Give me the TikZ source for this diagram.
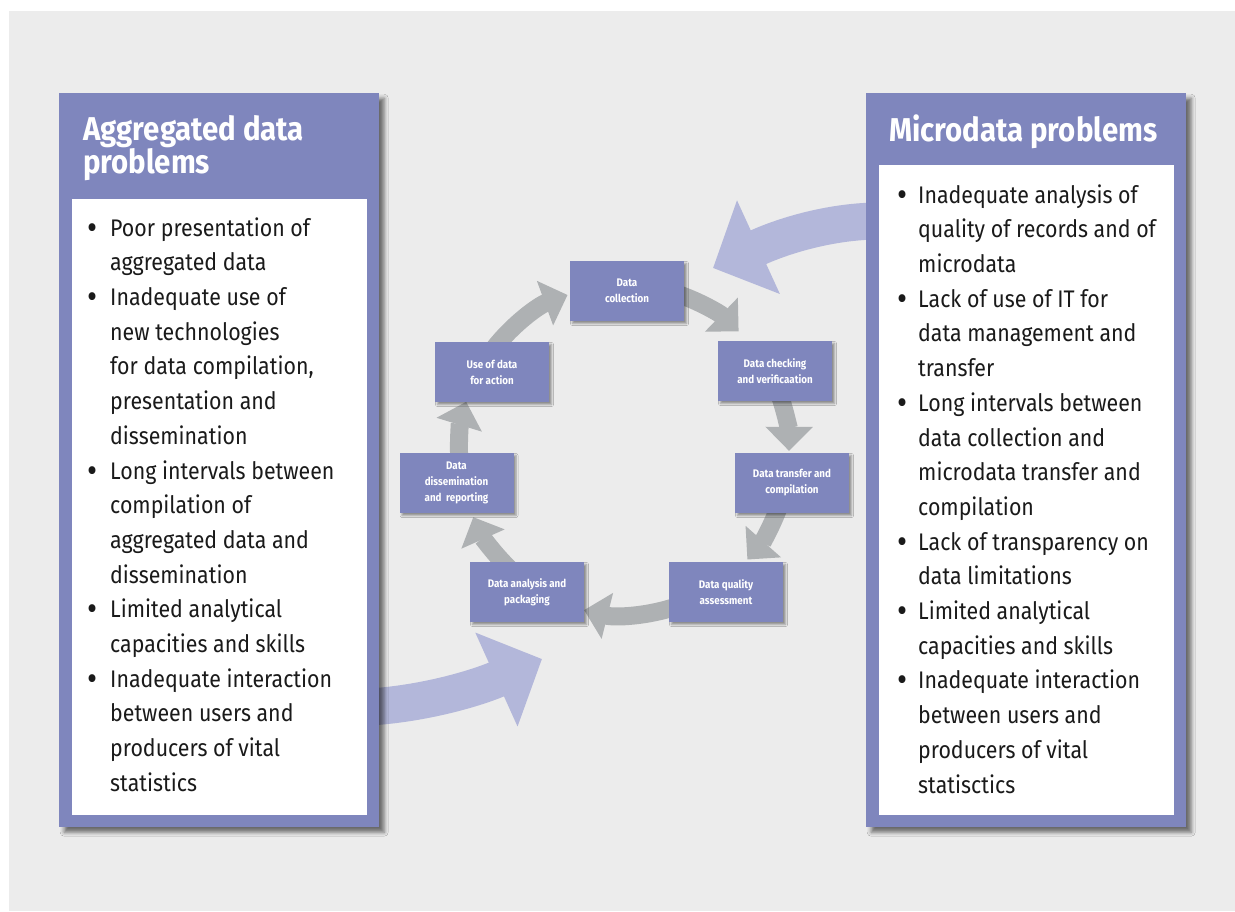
\documentclass[tikz,border=0pt]{standalone}
\usepackage{fontspec}
\usepackage{graphicx}
\setmainfont{Fira Sans}[FakeStretch=0.89]
\usetikzlibrary{arrows.meta,shadows.blur}
\definecolor{panelblue}{HTML}{7F86BD}
\definecolor{lav}{HTML}{B3B7DA}
\definecolor{cyclegrey}{HTML}{AEB1B3}
\definecolor{bggrey}{HTML}{ECECEC}
\definecolor{bodytext}{HTML}{1A1A1A}
\newcommand{\bdot}{\makebox[12pt][c]{\raisebox{-3pt}{\scalebox{1.45}{\textbullet}}}}

\begin{document}
\begin{tikzpicture}[x=1pt,y=-1pt,
  panel/.style={fill=panelblue, anchor=north west, inner sep=0,
    blur shadow={shadow xshift=5pt,shadow yshift=-5pt,shadow blur radius=4pt,shadow opacity=55}},
  innerbox/.style={fill=white, anchor=north west, inner sep=0},
  heading/.style={text=white, font=\fontsize{33}{33}\selectfont\bfseries, align=left, anchor=north west, inner sep=0},
  stage/.style={fill=panelblue, minimum width=114pt, minimum height=60pt, inner sep=0,
    text=white, font=\fontsize{11}{16}\selectfont\bfseries, align=center,
    blur shadow={shadow xshift=2.5pt,shadow yshift=-2.5pt,shadow blur radius=2pt,shadow opacity=40}},
  cyc/.style={draw=cyclegrey, line width=18pt, -{Triangle[width=46pt,length=24pt]}},
  bigarrow/.style={draw=lav, line width=37pt, -{Triangle[width=100pt,length=50pt]}},
  listtext/.style={anchor=north west, inner sep=0, text=bodytext, font=\fontsize{24}{34.7}\selectfont}
]
% page and grey backdrop
\useasboundingbox (0,0) rectangle (1235,911);
\fill[white] (0,0) rectangle (1235,911);
\fill[bggrey] (9,11) rectangle (1235,911);

% broad lavender arrows feeding the cycle
\coordinate (lstart) at (370,707);
\coordinate (ltip) at (542,659);
\coordinate (rstart) at (875,221);
\coordinate (rtip) at (713,268);
\draw[bigarrow] (lstart) .. controls (430,703) and (482,686) .. (ltip);
\draw[bigarrow] (rstart) .. controls (830,222) and (785,235) .. (rtip);

% side panels
\node[panel, minimum width=320pt, minimum height=734pt] (lpanel) at (59,93) {};
\node[innerbox, minimum width=295pt, minimum height=616pt] (lbody) at (72,199) {};
\node[heading] (ltitle) at (83,115) {Aggregated data\\problems};
\node[listtext] (llist) at (86,211.7) {%
\begin{tabular}{@{}p{24pt}@{}l@{}}
\bdot & Poor presentation of\\
 & aggregated data\\
\bdot & Inadequate use of\\
 & new technologies\\
 & for data compilation,\\
 & presentation and\\
 & dissemination\\
\bdot & Long intervals between\\
 & compilation of\\
 & aggregated data and\\
 & dissemination\\
\bdot & Limited analytical\\
 & capacities and skills\\
\bdot & Inadequate interaction\\
 & between users and\\
 & producers of vital\\
 & statistics
\end{tabular}};

\node[panel, minimum width=320pt, minimum height=734pt] (rpanel) at (866,93) {};
\node[innerbox, minimum width=295pt, minimum height=650pt] (rbody) at (879,165) {};
\node[heading] (rtitle) at (889,114.5) {Microdata problems};
\node[listtext] (rlist) at (896,178.7) {%
\begin{tabular}{@{}p{22pt}@{}l@{}}
\bdot & Inadequate analysis of\\
 & quality of records and of\\
 & microdata\\
\bdot & Lack of use of IT for\\
 & data management and\\
 & transfer\\
\bdot & Long intervals between\\
 & data collection and\\
 & microdata transfer and\\
 & compilation\\
\bdot & Lack of transparency on\\
 & data limitations\\
\bdot & Limited analytical\\
 & capacities and skills\\
\bdot & Inadequate interaction\\
 & between users and\\
 & producers of vital\\
 & statisctics
\end{tabular}};

% circular process: grey arc arrows around a common hub
\coordinate (hub) at (624,450);
\draw[cyc] (hub) ++(-72:165) arc[start angle=-72, end angle=-46, radius=165];
\draw[cyc] (hub) ++(-20:165) arc[start angle=-20, end angle=0.3, radius=165];
\draw[cyc] (hub) ++(19:165) arc[start angle=19, end angle=41.6, radius=165];
\draw[cyc] (hub) ++(71:165) arc[start angle=71, end angle=104, radius=165];
\draw[cyc] (hub) ++(134:165) arc[start angle=134, end angle=156, radius=165];
\draw[cyc] (hub) ++(176:165) arc[start angle=176, end angle=197, radius=165];
\draw[cyc] (hub) ++(218:165) arc[start angle=218, end angle=250, radius=165];

% process stages
\node[stage] (collect) at (627,291) {Data\\collection};
\node[stage] (check) at (775,371) {Data checking\\and verificaation};
\node[stage] (transfer) at (792,483) {Data transfer and\\compilation};
\node[stage] (quality) at (726,592) {Data quality\\assessment};
\node[stage] (analysis) at (527,592) {Data analysis and\\packaging};
\node[stage] (dissem) at (456.5,483) {Data\\dissemination\\and~~reporting};
\node[stage] (use) at (492,372) {Use of data\\for action};
\end{tikzpicture}
\end{document}
